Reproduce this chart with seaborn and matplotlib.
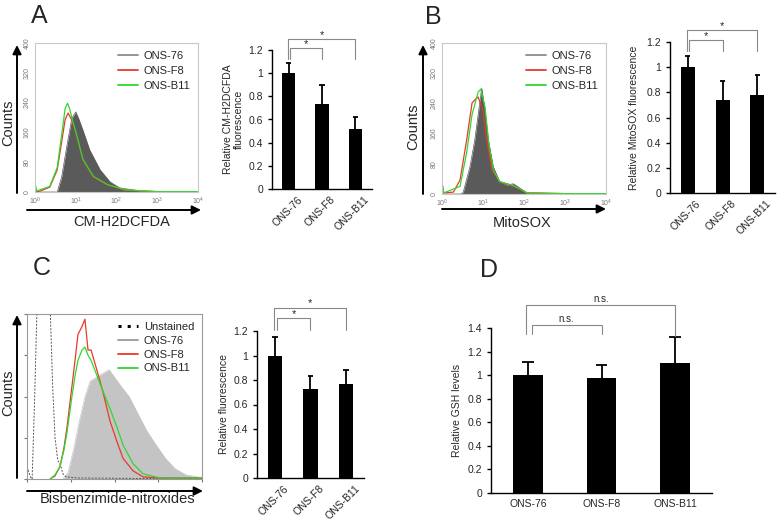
import matplotlib
matplotlib.use("Agg")
import matplotlib.pyplot as plt
import matplotlib.transforms as mtrans
import seaborn as sns
from matplotlib.lines import Line2D
from matplotlib.patches import FancyArrowPatch

sns.set_style("white")
plt.rcParams["font.family"] = ["Liberation Sans", "DejaVu Sans"]

W, H = 778, 523
cells = ["ONS-76", "ONS-F8", "ONS-B11"]

# relative levels (mean, upper SD)
a_mean = [1.0, 0.73, 0.52]
a_err = [0.09, 0.17, 0.10]
b_mean = [1.0, 0.74, 0.78]
b_err = [0.09, 0.15, 0.155]
c_mean = [1.0, 0.73, 0.77]
c_err = [0.15, 0.10, 0.115]
d_mean = [1.0, 0.98, 1.10]
d_err = [0.11, 0.11, 0.22]

# A: CM-H2DCFDA histograms (log channel, counts)
a76_x = [1, 3.5, 4.5, 6, 8, 10, 12, 15, 22, 40, 70, 120, 380, 1000, 10000]
a76_y = [0, 0, 40, 121, 198, 215, 195, 166, 113, 59, 27, 11, 3, 0, 0]
af8_x = [1, 1.3, 2.3, 3.5, 4.6, 5.5, 6.5, 8, 10.7, 15, 27, 60, 160, 1000, 10000]
af8_y = [0, 2, 13, 59, 140, 195, 212, 193, 148, 86, 40, 19, 5, 1, 0]
ab11_x = [1, 1.1, 2.3, 3.5, 4.6, 5.5, 6.3, 7, 8, 10.7, 15, 27, 60, 160, 1000, 10000]
ab11_y = [25, 3, 15, 65, 160, 225, 238, 225, 200, 150, 88, 42, 20, 6, 1, 1]

# B: MitoSOX histograms
b76_x = [1, 2.9, 3.3, 4.8, 6.3, 8.5, 9.3, 11.2, 13.5, 17.8, 25.7, 38, 55, 79, 117, 300, 1000, 10000]
b76_y = [0, 0, 5, 72, 143, 249, 280, 222, 143, 72, 32, 24, 27, 16, 3, 2, 1, 0]
bf8_x = [1, 1.1, 1.9, 2.75, 4, 5.4, 6.3, 7.6, 10, 12.6, 16.6, 25.7, 46, 79, 117, 1000, 10000]
bf8_y = [30, 3, 5, 37, 143, 241, 249, 257, 222, 135, 64, 32, 24, 13, 3, 1, 0]
bb11_x = [1, 1.1, 2.75, 4, 5.4, 7.6, 8.9, 11.2, 14, 17.8, 25, 46, 79, 117, 1000, 10000]
bb11_y = [30, 3, 20, 110, 210, 270, 278, 230, 130, 65, 33, 25, 14, 3, 1, 1]

# C: bisbenzimide-nitroxide histograms (linear channel)
cun_x = [0, 20, 30, 45, 59, 80, 120, 135, 150, 164, 180, 195, 210, 230, 300, 1024]
cun_y = [12, 2, 0, 80, 170, 200, 200, 170, 90, 40, 18, 14, 5, 2, 1, 0]
c76_x = [211, 240, 275, 305, 340, 370, 400, 440, 480, 515, 550, 597, 650, 700, 755, 810, 866, 930, 1000, 1024]
c76_y = [0, 6, 30, 55, 80, 95, 98, 102, 106, 98, 90, 80, 63, 47, 33, 20, 10, 4, 2, 1]
cf8_x = [135, 164, 193, 216, 234, 263, 281, 298, 322, 339, 357, 375, 410, 445, 486, 527, 562, 620, 679, 778, 1024]
cf8_y = [0, 3, 12, 30, 50, 90, 115, 140, 148, 155, 125, 125, 105, 84, 56, 36, 20, 8, 2, 1, 1]
cb11_x = [135, 164, 193, 216, 234, 263, 281, 298, 322, 339, 357, 375, 410, 445, 486, 527, 562, 620, 679, 778, 1024]
cb11_y = [0, 4, 12, 28, 45, 80, 100, 115, 125, 128, 120, 115, 100, 85, 68, 50, 33, 15, 5, 1, 1]

RED = "#e8392a"
GREEN = "#2fd82f"

fig = plt.figure(figsize=(W / 100, H / 100), dpi=100)


def box(x0, y0, x1, y1):
    return fig.add_axes([x0 / W, 1 - y1 / H, (x1 - x0) / W, (y1 - y0) / H])


def text(px, py, s, **kw):
    fig.text(px / W, 1 - py / H, s, ha="center", va="center", **kw)


def arrow(x0, y0, x1, y1):
    fig.add_artist(FancyArrowPatch((x0 / W, 1 - y0 / H), (x1 / W, 1 - y1 / H),
                                   transform=fig.transFigure, arrowstyle="-|>",
                                   mutation_scale=13, lw=1.4, color="black",
                                   shrinkA=0, shrinkB=0))


def frame(ax, color):
    for s in ax.spines.values():
        s.set_color(color)
        s.set_linewidth(0.8)


def log_hist(ax, g, r, gr):
    ax.fill_between(g[0], g[1], color="#5a5a5a", lw=0)
    sns.lineplot(x=g[0], y=g[1], color="#5a5a5a", lw=0.5, ax=ax)
    sns.lineplot(x=r[0], y=r[1], color=RED, lw=0.9, ax=ax)
    sns.lineplot(x=gr[0], y=gr[1], color=GREEN, lw=0.9, ax=ax)
    ax.set_xscale("log")
    ax.set_xlim(1, 10000)
    ax.set_ylim(0, 400)
    ax.set_xticks([1, 10, 100, 1000, 10000])
    ax.minorticks_off()
    ax.set_yticks([0, 80, 160, 240, 320, 400])
    ax.tick_params(labelsize=5, labelcolor="#777777", length=1.5, color="#bbbbbb", pad=1.5)
    for t in ax.get_yticklabels():
        t.set_rotation(90)
        t.set_va("center")
    frame(ax, "#c8c8c8")
    hand = [Line2D([], [], color="#8c8c8c", lw=1.3), Line2D([], [], color=RED, lw=1.3),
            Line2D([], [], color=GREEN, lw=1.3)]
    ax.legend(hand, cells, loc="upper right", fontsize=8, frameon=False, handlelength=1.8,
              handletextpad=0.5, labelspacing=0.45, borderaxespad=0.3)


def bars(ax, means, errs, ymax, ylabel, cap, rotate=True, pad=3):
    sns.barplot(x=cells, y=means, color="black", width=0.4, saturation=1, errorbar=None,
                linewidth=0, ax=ax)
    tops = [m + e for m, e in zip(means, errs)]
    pos = list(range(len(means)))
    ax.vlines(pos, means, tops, color="black", lw=1.3)
    ax.hlines(tops, [p - cap for p in pos], [p + cap for p in pos], color="black", lw=1.3)
    ax.set_xlim(-0.5, 2.5)
    ax.set_ylim(0, ymax)
    ticks = [i * 0.2 for i in range(int(round(ymax / 0.2)) + 1)]
    ax.set_yticks(ticks)
    ax.set_yticklabels([f"{t:.1f}".rstrip("0").rstrip(".") for t in ticks])
    ax.set_xticks([-0.5, 0.5, 1.5, 2.5], minor=True)
    ax.tick_params(axis="x", which="major", length=0, labelsize=7.5, pad=4)
    ax.tick_params(axis="x", which="minor", length=3, width=1, direction="out", color="black")
    ax.tick_params(axis="y", length=3, width=1, direction="out", labelsize=7.5, color="black", left=True)
    ax.set_xlabel("")
    ax.set_ylabel(ylabel, fontsize=7.5, labelpad=pad)
    sns.despine(ax=ax)
    for s in ("left", "bottom"):
        ax.spines[s].set_color("black")
        ax.spines[s].set_linewidth(1)
    if rotate:
        off = mtrans.ScaledTranslation(6 / 72, 0, fig.dpi_scale_trans)
        for t in ax.get_xticklabels():
            t.set_rotation(45)
            t.set_ha("right")
            t.set_rotation_mode("anchor")
            t.set_transform(t.get_transform() + off)


def bracket(ax, x0, x1, ytop, y0, y1, label, ly, size=8, color="#888888"):
    ax.plot([x0, x0, x1, x1], [y0, ytop, ytop, y1], color=color, lw=0.8, clip_on=False)
    ax.text((x0 + x1) / 2, ly, label, ha="center", va="center", fontsize=size, clip_on=False)


# ---- A ----
ax = box(35, 43, 198, 192)
log_hist(ax, (a76_x, a76_y), (af8_x, af8_y), (ab11_x, ab11_y))
arrow(17, 193, 17, 45)
arrow(27, 210, 201, 210)
text(8, 123, "Counts", fontsize=10.5, rotation=90)
text(122, 222, "CM-H2DCFDA", fontsize=10.5)
text(39, 16, "A", fontsize=18)

ax = box(272, 50, 372, 189)
bars(ax, a_mean, a_err, 1.2, "Relative CM-H2DCFDA\nfluorescence", 0.08)
bracket(ax, 0.05, 1.0, 1.218, 1.12, 1.12, "*", 1.25)
bracket(ax, -0.02, 2.0, 1.295, 1.12, 1.12, "*", 1.33)

# ---- B ----
ax = box(442, 43, 606, 194)
log_hist(ax, (b76_x, b76_y), (bf8_x, bf8_y), (bb11_x, bb11_y))
arrow(423, 194, 423, 45)
arrow(442, 209, 606, 209)
text(413, 127, "Counts", fontsize=10.5, rotation=90)
text(522, 223, "MitoSOX", fontsize=10.5)
text(433, 17, "B", fontsize=18)

ax = box(670, 42, 775, 193)
bars(ax, b_mean, b_err, 1.2, "Relative MitoSOX fluorescence", 0.08, pad=5)
bracket(ax, 0.05, 1.0, 1.216, 1.13, 1.13, "*", 1.25)
bracket(ax, -0.02, 2.0, 1.295, 1.13, 1.13, "*", 1.33)

# ---- C ----
ax = box(27, 314, 202, 479)
ax.fill_between(c76_x, c76_y, color="#c4c4c4", lw=0)
sns.lineplot(x=c76_x, y=c76_y, color="#c4c4c4", lw=0.5, ax=ax)
sns.lineplot(x=cun_x, y=cun_y, color="#555555", lw=0.7, linestyle=(0, (2, 1.5)), ax=ax)
sns.lineplot(x=cf8_x, y=cf8_y, color=RED, lw=0.9, ax=ax)
sns.lineplot(x=cb11_x, y=cb11_y, color=GREEN, lw=0.9, ax=ax)
ax.set_xlim(0, 1024)
ax.set_ylim(0, 160)
ax.set_xticks([0, 256, 512, 768, 1024])
ax.set_yticks([0, 40, 80, 120, 160])
ax.set_xticklabels([])
ax.set_yticklabels([])
ax.tick_params(length=2.5, direction="out", color="#777777", bottom=True, left=True)
frame(ax, "#999999")
hand = [Line2D([], [], color="black", lw=2.2, linestyle=(0, (1, 2))),
        Line2D([], [], color="#9a9a9a", lw=1.3), Line2D([], [], color=RED, lw=1.3),
        Line2D([], [], color=GREEN, lw=1.3)]
ax.legend(hand, ["Unstained"] + cells, loc="upper right", fontsize=8, frameon=False,
          handlelength=1.8, handletextpad=0.5, labelspacing=0.35, borderaxespad=0.3)
arrow(17, 478, 17, 315)
arrow(27, 491, 203, 491)
text(8, 393, "Counts", fontsize=10.5, rotation=90)
text(118, 499, "Bisbenzimide-nitroxides", fontsize=10.5)
text(42, 268, "C", fontsize=18)

ax = box(257, 331, 364, 478)
bars(ax, c_mean, c_err, 1.2, "Relative fluorescence", 0.08)
bracket(ax, 0.05, 1.0, 1.306, 1.21, 1.21, "*", 1.34)
bracket(ax, -0.02, 2.0, 1.388, 1.21, 1.21, "*", 1.43)

# ---- D ----
ax = box(491, 328, 712, 493)
bars(ax, d_mean, d_err, 1.4, "Relative GSH levels", 0.08, rotate=False, pad=4)
bracket(ax, 0.05, 1.0, 1.425, 1.35, 1.35, "n.s.", 1.475, size=7)
bracket(ax, -0.02, 2.0, 1.595, 1.35, 1.33, "n.s.", 1.65, size=7)
text(489, 270, "D", fontsize=18)

fig.savefig("out.png", dpi=100)
